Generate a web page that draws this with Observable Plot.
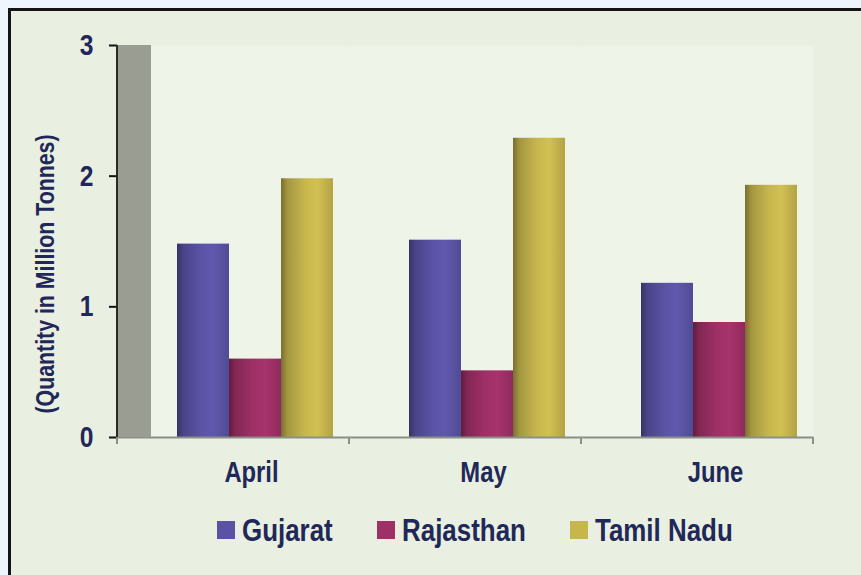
<!DOCTYPE html>
<html><head><meta charset="utf-8">
<script src="https://cdn.jsdelivr.net/npm/d3@7"></script>
<script src="https://cdn.jsdelivr.net/npm/@observablehq/plot@0.6"></script>
<style>
body{margin:0;background:#eef5fc;width:861px;height:575px;overflow:hidden;position:relative;font-family:"Liberation Sans",Arial,sans-serif;}
#frame{position:absolute;left:8px;top:8px;width:900px;height:600px;border:3px solid #151515;background:#e9f0e1;box-sizing:border-box;}
#chart{position:absolute;left:0;top:0;}
#ytitle{position:absolute;left:45px;top:274px;transform:translate(-50%,-50%) rotate(-90deg) scaleX(0.82);white-space:nowrap;font-weight:bold;font-size:26px;color:#1f2858;}
#legend{position:absolute;left:217px;top:510px;display:flex;align-items:center;font-weight:bold;font-size:32px;color:#1f2858;line-height:40px;}
.item{display:flex;align-items:center;}
.sw{width:18px;height:18px;margin-right:7px;flex:none;}
.lab{display:inline-block;transform:scaleX(0.81);transform-origin:0 50%;white-space:nowrap;}
</style></head><body>
<div id="frame"></div>
<svg width="0" height="0" style="position:absolute"><defs id="defs"></defs></svg>
<div id="chart"></div>
<div id="ytitle">(Quantity in Million Tonnes)</div>
<div id="legend"></div>
<script>
const months = ["April", "May", "June"];
const states = ["Gujarat", "Rajasthan", "Tamil Nadu"];
const gujarat = [1.48, 1.51, 1.18];
const rajasthan = [0.60, 0.51, 0.88];
const tamilNadu = [1.98, 2.29, 1.93];
const yTicks = [0, 1, 2, 3];
const stateColors = ["#5a53a5", "#9e3066", "#c6b64e"];
const squeeze = 0.82;      // narrow-font look for axis text
const legendSqueeze = 0.81;

// gradients for the shaded bars
const defs = d3.select("#defs");
stateColors.forEach((c, i) => {
  const g = defs.append("linearGradient").attr("id", "grad" + i).attr("x1", 0).attr("x2", 1).attr("y1", 0).attr("y2", 0);
  const col = d3.color(c);
  [[0, col.darker(1.4)], [0.12, col.darker(0.55)], [0.45, col], [0.7, col.brighter(0.15)], [1, col.darker(0.3)]]
    .forEach(([o, k]) => g.append("stop").attr("offset", o).attr("stop-color", k.formatHex()));
});

const series = [gujarat, rajasthan, tamilNadu];
const data = months.flatMap((m, i) => states.map((s, j) => ({month: m, state: s, value: series[j][i]})));

const plot = Plot.plot({
  width: 861, height: 500,
  marginLeft: 117, marginRight: 48, marginTop: 45, marginBottom: 63,
  style: {background: "transparent", color: "#1f2858", fontFamily: '"Liberation Sans",Arial,sans-serif', overflow: "visible"},
  fx: {domain: months, paddingInner: 0, paddingOuter: 0, label: null},
  x: {domain: states, paddingInner: 0, paddingOuter: 0.71, align: 0.79, axis: null},
  y: {domain: [0, 3], label: null},
  color: {domain: states, range: states.map((s, i) => `url(#grad${i})`)},
  marks: [
    Plot.frame({fill: "#eef4e8", stroke: "none"}),
    Plot.barY(data, {fx: "month", x: "state", y: "value", fill: "state"}),
    Plot.ruleY([0], {stroke: "#8c8f88", strokeWidth: 2}),
    Plot.axisY({ticks: yTicks, tickFormat: d => d, tickSize: 8, tickPadding: 16, fontSize: 30, fontWeight: "bold", stroke: "#111", strokeWidth: 2, label: null}),
    Plot.axisFx({anchor: "bottom", tickSize: 0, tickPadding: 24, dx: 18, fontSize: 29, fontWeight: "bold", label: null})
  ]
});
document.getElementById("chart").append(plot);

// condense the axis text
plot.querySelectorAll("text").forEach(t => {
  const len = t.getComputedTextLength();
  if (len > 0) { t.setAttribute("textLength", len * squeeze); t.setAttribute("lengthAdjust", "spacingAndGlyphs"); }
});

// 3D side wall and baseline ticks, placed from the scales
const y = plot.scale("y"), fx = plot.scale("fx");
const y0 = y.apply(0), yTop = y.apply(d3.max(yTicks));
const left = fx.apply(months[0]);
const svg = d3.select(plot);
svg.append("rect").attr("x", left).attr("y", yTop).attr("width", 34).attr("height", y0 - yTop).attr("fill", "#9a9d91");
svg.append("line").attr("x1", left).attr("x2", left).attr("y1", yTop).attr("y2", y0).attr("stroke", "#2a2a2a").attr("stroke-width", 2);
const edges = months.map(m => fx.apply(m)).concat([fx.apply(months[months.length - 1]) + fx.bandwidth]);
svg.append("g").selectAll("line").data(edges).join("line")
  .attr("x1", d => d).attr("x2", d => d).attr("y1", y0).attr("y2", y0 + 7)
  .attr("stroke", "#8c8f88").attr("stroke-width", 2);

// legend
const legend = d3.select("#legend");
states.forEach((s, i) => {
  const it = legend.append("div").attr("class", "item");
  it.append("div").attr("class", "sw").style("background", stateColors[i]);
  const lab = it.append("span").attr("class", "lab").text(s);
  const w = lab.node().offsetWidth;
  lab.style("margin-right", (i < states.length - 1 ? 44 - w * (1 - legendSqueeze) : 0) + "px");
});
</script>
</body></html>
